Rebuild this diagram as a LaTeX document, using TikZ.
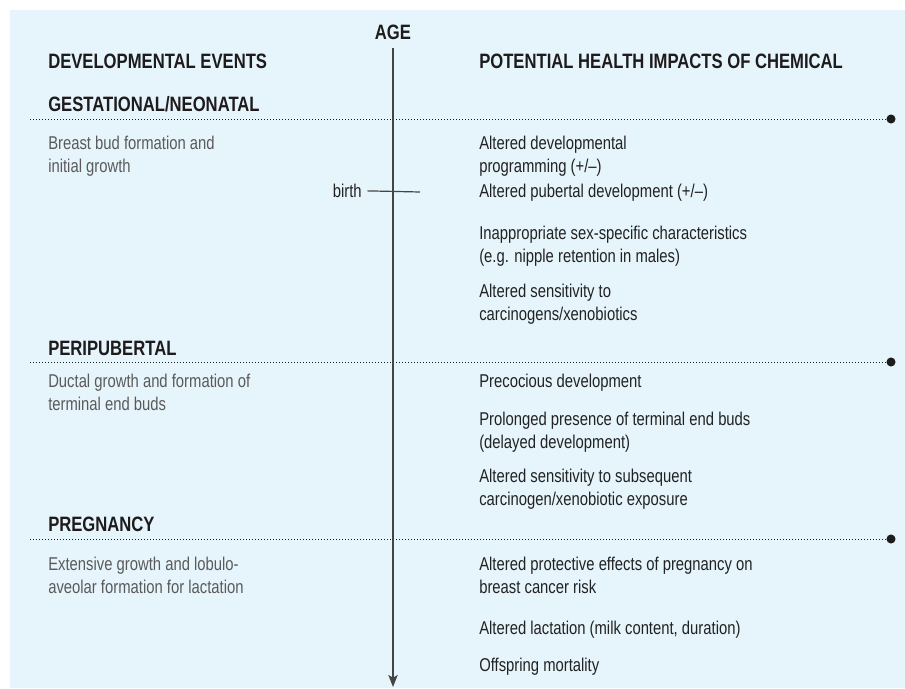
\documentclass[tikz,border=0pt]{standalone}
\usepackage{fontspec}
\setmainfont{Liberation Sans}[FakeStretch=0.8]
\usetikzlibrary{arrows.meta, positioning}
\definecolor{panelcol}{HTML}{E6F4FC}
\definecolor{headcol}{HTML}{1E1B1C}
\definecolor{eventcol}{HTML}{5A5A5A}
\definecolor{impactcol}{HTML}{222222}
\definecolor{axiscol}{HTML}{444444}
\tikzstyle{head} = [font=\fontsize{15.6}{18}\selectfont\bfseries, text=headcol, inner sep=0, anchor=base west]
\tikzstyle{event} = [font=\fontsize{13.9}{16.9}\selectfont, text=eventcol, align=left, inner sep=0, anchor=north west]
\tikzstyle{impact} = [event, text=impactcol]
\tikzstyle{divider} = [line width=0.7pt, dash pattern=on 0.7pt off 1.55pt, draw=headcol]
\tikzstyle{enddot} = [circle, fill=headcol, inner sep=0, minimum size=6.8pt]
\tikzstyle{axis} = [line width=1.1pt, draw=axiscol, -{Stealth[length=9pt, width=7pt, inset=2pt]}]
\tikzstyle{tick} = [line width=0.9pt, draw=axiscol]

\begin{document}
\begin{tikzpicture}[x=0.75pt, y=-0.75pt]
			\useasboundingbox (0,0) rectangle (905,688);
			\fill[panelcol] (10,10) rectangle (905,688);
			% Headings
			\node (age) [head, anchor=base] at (393,40) {AGE};
			\node (events) [head] at (48,69) {DEVELOPMENTAL EVENTS};
			\node (impacts) [head] at (479,69) {POTENTIAL HEALTH IMPACTS OF CHEMICAL};
			\node (gest) [head] at (48,112) {GESTATIONAL/NEONATAL};
			\node (peri) [head] at (48,355) {PERIPUBERTAL};
			\node (preg) [head] at (48,531) {PREGNANCY};
			% Dividers
			\coordinate (gestL) at (30,119);
			\node (gestdot) [enddot] at (891,119) {};
			\coordinate (periL) at (30,362);
			\node (peridot) [enddot] at (891,362) {};
			\coordinate (pregL) at (30,539);
			\node (pregdot) [enddot] at (891,539) {};
			% Developmental events
			\node (bud) [event] at (48,136) {Breast bud formation and\\initial growth};
			\node (ductal) [event] at (48,374) {Ductal growth and formation of\\terminal end buds};
			\node (lobulo) [event] at (48,557) {Extensive growth and lobulo-\\aveolar formation for lactation};
			% Health impacts
			\node (devprog) [impact] at (479,136) {Altered developmental\\programming (+/–)};
			\node (pubertal) [impact] at (479,184) {Altered pubertal development (+/–)};
			\node (sexspec) [impact] at (479,226) {Inappropriate sex-specific characteristics\\(e.g. nipple retention in males)};
			\node (sensit) [impact] at (479,284) {Altered sensitivity to\\carcinogens/xenobiotics};
			\node (precoc) [impact] at (479,374) {Precocious development};
			\node (prolong) [impact] at (479,412) {Prolonged presence of terminal end buds\\(delayed development)};
			\node (subseq) [impact] at (479,469) {Altered sensitivity to subsequent\\carcinogen/xenobiotic exposure};
			\node (protect) [impact] at (479,557) {Altered protective effects of pregnancy on\\breast cancer risk};
			\node (lactat) [impact] at (479,621) {Altered lactation (milk content, duration)};
			\node (offspr) [impact] at (479,658) {Offspring mortality};
			% Birth mark
			\node (birth) [event, text=impactcol, anchor=base east] at (362,197.5) {birth};
			\coordinate (birthR) at (420,192);
			% Lines
			\draw [divider] (gestL) -- (gestdot);
			\draw [divider] (periL) -- (peridot);
			\draw [divider] (pregL) -- (pregdot);
			\coordinate (axisend) at (393,687);
			\draw [axis] (age.south) ++(0,8) -- (axisend);
			\draw [tick] ([xshift=4pt]birth.east) -- (birthR);
		\end{tikzpicture}
\end{document}
